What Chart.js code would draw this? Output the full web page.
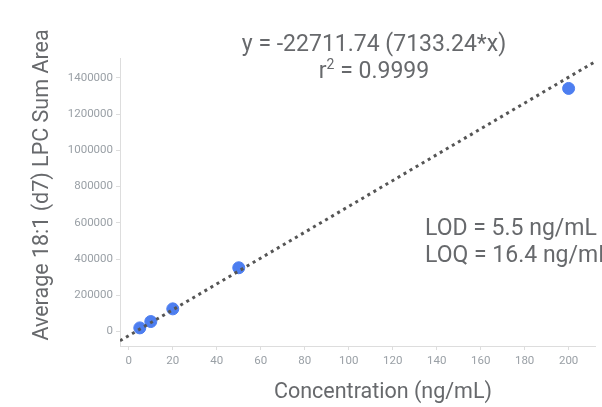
<!DOCTYPE html>
<html>
<head>
<meta charset="utf-8">
<script src="https://cdn.jsdelivr.net/npm/chart.js@4"></script>
<style>
  html, body { margin: 0; padding: 0; background: #fff; }
  #wrap { width: 602px; height: 407px; }
</style>
</head>
<body>
<div id="wrap"><canvas id="calib"></canvas></div>
<script>
// calibration points
const concentrations = [5, 10, 20, 50, 200];
const sumAreas = [20000, 55000, 125000, 352000, 1342000];

// ends of the dotted fit line, as drawn
const fitX = [-4, 212];
const fitY = [-51200, 1489500];

const xTicks = [0, 20, 40, 60, 80, 100, 120, 140, 160, 180, 200];
const yTicks = [0, 200000, 400000, 600000, 800000, 1000000, 1200000, 1400000];

const equationText = 'y = -22711.74 (7133.24*x)';
const r2Value = '0.9999';
const lodText = 'LOD = 5.5 ng/mL';
const loqText = 'LOQ = 16.4 ng/mL';
const xTitle = 'Concentration (ng/mL)';
const yTitle = 'Average 18:1 (d7) LPC Sum Area';

const textColor = '#67696c';

// draw the equation, the limits and the axis titles
const notes = {
    id: 'notes',
    afterDraw(chart) {
        const ctx = chart.ctx;
        ctx.save();
        ctx.fillStyle = textColor;
        ctx.textBaseline = 'middle';

        ctx.font = '23px Roboto';
        ctx.textAlign = 'center';
        ctx.fillText(equationText, 374, 45);

        // r² line with a raised 2
        const rest = ' = ' + r2Value;
        const wR = ctx.measureText('r').width;
        const wRest = ctx.measureText(rest).width;
        ctx.font = '14px Roboto';
        const w2 = ctx.measureText('2').width;
        let x = 374 - (wR + w2 + wRest) / 2;
        ctx.textAlign = 'left';
        ctx.font = '23px Roboto';
        ctx.fillText('r', x, 72);
        ctx.font = '14px Roboto';
        ctx.fillText('2', x + wR, 65);
        ctx.font = '23px Roboto';
        ctx.fillText(rest, x + wR + w2, 72);

        ctx.fillText(lodText, 425, 229);
        ctx.fillText(loqText, 425, 256);

        ctx.font = '21.5px Roboto';
        ctx.textAlign = 'center';
        ctx.fillText(xTitle, 383, 393);

        ctx.translate(43, 185);
        ctx.rotate(-Math.PI / 2);
        ctx.fillText(yTitle, 0, 0);
        ctx.restore();
    }
};

const chart = new Chart(document.getElementById('calib'), {
    type: 'scatter',
    data: {
        datasets: [
            {
                label: 'Standards',
                data: concentrations.map((c, i) => ({ x: c, y: sumAreas[i] })),
                backgroundColor: '#4d7ef0',
                borderColor: '#4d7ef0',
                pointRadius: 6,
                pointHoverRadius: 6,
                order: 2
            },
            {
                type: 'line',
                label: 'Fit',
                data: fitX.map((c, i) => ({ x: c, y: fitY[i] })),
                borderColor: '#555555',
                borderWidth: 3,
                borderDash: [3, 4],
                pointRadius: 0,
                fill: false,
                order: 1
            }
        ]
    },
    options: {
        responsive: true,
        maintainAspectRatio: false,
        animation: false,
        layout: { padding: { top: 58, right: 7, left: 0, bottom: 0 } },
        plugins: {
            legend: { display: false },
            tooltip: { enabled: false }
        },
        scales: {
            x: {
                type: 'linear',
                min: -4,
                max: 212,
                afterBuildTicks: axis => { axis.ticks = xTicks.map(v => ({ value: v })); },
                afterFit: axis => { axis.height = 61; },
                grid: { drawOnChartArea: false, color: '#dddddd', tickLength: 4 },
                border: { color: '#dddddd' },
                ticks: {
                    color: '#9aa0a6',
                    font: { family: 'Roboto', size: 11.5 },
                    padding: 4,
                    maxRotation: 0,
                    callback: v => String(v)
                }
            },
            y: {
                type: 'linear',
                min: -80000,
                max: 1510000,
                afterBuildTicks: axis => { axis.ticks = yTicks.map(v => ({ value: v })); },
                afterFit: axis => { axis.width = 120; },
                grid: { drawOnChartArea: false, color: '#dddddd', tickLength: 4 },
                border: { color: '#dddddd' },
                ticks: {
                    color: '#9aa0a6',
                    font: { family: 'Roboto', size: 11.5 },
                    padding: 3,
                    callback: v => String(v)
                }
            }
        }
    },
    plugins: [notes]
});
</script>
</body>
</html>
